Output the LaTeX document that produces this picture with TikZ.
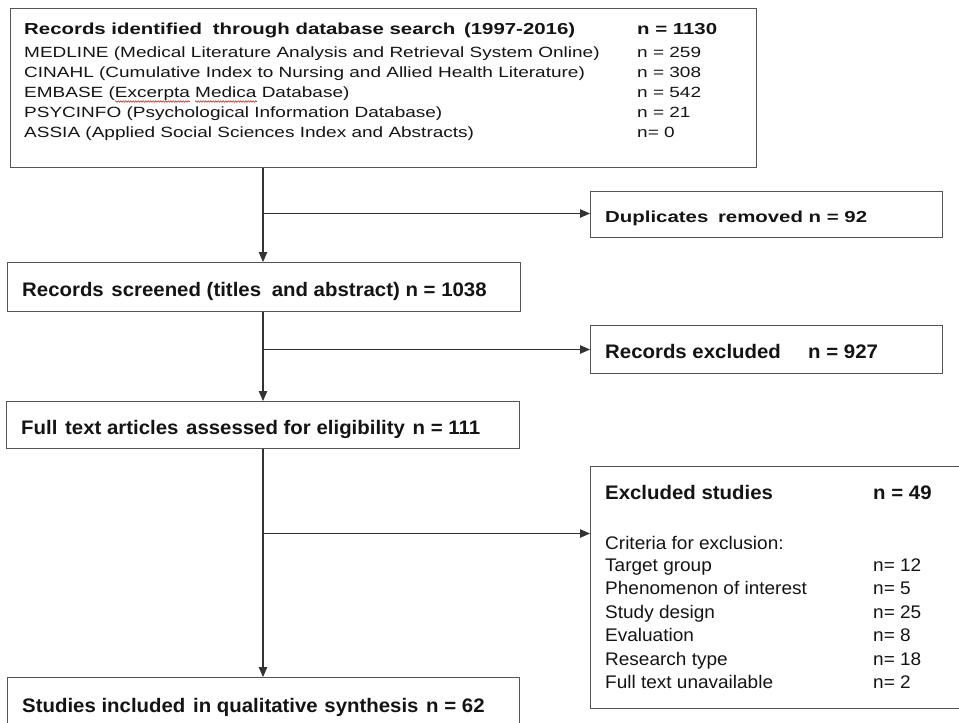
\documentclass[tikz,border=0pt]{standalone}
\usepackage{fontspec}
\setmainfont{Liberation Sans}
\usetikzlibrary{arrows.meta,decorations.pathmorphing}
\definecolor{boxline}{HTML}{555555}
\definecolor{conn}{HTML}{333333}
\definecolor{txt}{HTML}{141414}
\newcommand\rg{\fontsize{19}{19}\selectfont}
\newcommand\bd{\fontsize{20.4}{20.4}\selectfont\bfseries}
\newcommand\sqz[1]{\scalebox{1}[0.78]{#1}}
\newcommand\nrm[1]{\scalebox{1}[0.96]{#1}}
\newcommand\gap[1]{\hspace*{#1pt}}
\begin{document}
\begin{tikzpicture}[x=1pt,y=-1pt,
  box/.style={draw=boxline,line width=1.3pt,rectangle,inner sep=0pt,anchor=north west},
  lbl/.style={anchor=base west,inner sep=0pt,text=txt},
  arr/.style={draw=conn,line width=1.1pt,-{Triangle[length=10pt,width=8.5pt]}},
  wavy/.style={draw=red!85!black,line width=0.5pt,decorate,decoration={snake,amplitude=0.8pt,segment length=2.5pt}}]
\useasboundingbox[fill=white] (0,0) rectangle (959,723);
% boxes
\node[box,minimum width=746pt,minimum height=159pt] (top) at (10,8) {};
\node[box,minimum width=352pt,minimum height=46pt] (dup) at (590,191) {};
\node[box,minimum width=513pt,minimum height=49pt] (scr) at (7,262) {};
\node[box,minimum width=352pt,minimum height=48pt] (exc) at (590,325) {};
\node[box,minimum width=513pt,minimum height=47pt] (full) at (6,401) {};
\node[box,minimum width=390pt,minimum height=242pt] (exs) at (590,466) {};
\node[box,minimum width=512pt,minimum height=70pt] (inc) at (7,677) {};
% top box text
\node[lbl] (t0) at (24,34) {\sqz{\bd Records identified\gap{5} through database search\gap{3} (1997-2016)}};
\node[lbl] (n0) at (637,34) {\sqz{\bd n = 1130}};
\node[lbl] (t1) at (24,57) {\sqz{\rg MEDLINE (Medical Literature Analysis and Retrieval System Online)}};
\node[lbl] (n1) at (637,57) {\sqz{\rg n = 259}};
\node[lbl] (t2) at (24,77) {\sqz{\rg CINAHL (Cumulative Index to Nursing and Allied Health Literature)}};
\node[lbl] (n2) at (637,77) {\sqz{\rg n = 308}};
\node[lbl] (t3) at (24,97) {\sqz{\rg EMBASE (Excerpta Medica Database)}};
\node[lbl] (n3) at (637,97) {\sqz{\rg n = 542}};
\node[lbl] (t4) at (24,117) {\sqz{\rg PSYCINFO (Psychological Information Database)}};
\node[lbl] (n4) at (637,117) {\sqz{\rg n = 21}};
\node[lbl] (t5) at (24,137) {\sqz{\rg ASSIA (Applied Social Sciences Index and Abstracts)}};
\node[lbl] (n5) at (637,137) {\sqz{\rg n= 0}};
\draw[wavy] (115,101.5) -- (190,101.5);
\draw[wavy] (195,101.5) -- (257,101.5);
% other texts
\node[lbl] (dupt) at (605,222.5) {\sqz{\bd Duplicates\gap{4} removed n = 92}};
\node[lbl] (scrt) at (22,296.5) {\nrm{\bd Records\gap{2} screened (titles\gap{5} and abstract) n = 1038}};
\node[lbl] (exct) at (605,358) {\nrm{\bd Records excluded}};
\node[lbl] (excn) at (808,358) {\nrm{\bd n = 927}};
\node[lbl] (fullt) at (21,434.5) {\nrm{\bd Full\gap{2} text articles\gap{2} assessed for eligibility\gap{2} n = 111}};
\node[lbl] (exsh) at (605,499) {\nrm{\bd Excluded studies}};
\node[lbl] (exsn) at (873,499) {\nrm{\bd n = 49}};
\node[lbl] (c0) at (605,549) {\nrm{\rg Criteria for exclusion:}};
\node[lbl] (c1) at (605,571) {\nrm{\rg Target group}};
\node[lbl] (m1) at (873,571) {\nrm{\rg n= 12}};
\node[lbl] (c2) at (605,594) {\nrm{\rg Phenomenon of interest}};
\node[lbl] (m2) at (873,594) {\nrm{\rg n= 5}};
\node[lbl] (c3) at (605,618) {\nrm{\rg Study design}};
\node[lbl] (m3) at (873,618) {\nrm{\rg n= 25}};
\node[lbl] (c4) at (605,641.5) {\nrm{\rg Evaluation}};
\node[lbl] (m4) at (873,641.5) {\nrm{\rg n= 8}};
\node[lbl] (c5) at (605,665) {\nrm{\rg Research type}};
\node[lbl] (m5) at (873,665) {\nrm{\rg n= 18}};
\node[lbl] (c6) at (605,688) {\nrm{\rg Full text unavailable}};
\node[lbl] (m6) at (873,688) {\nrm{\rg n= 2}};
\node[lbl] (inct) at (22,712) {\nrm{\bd Studies included\gap{2} in qualitative\gap{1} synthesis\gap{2} n = 62}};
% connectors
\coordinate (sp) at (263,0);
\coordinate (b1) at (263,213.5);
\coordinate (b2) at (263,349.5);
\coordinate (b3) at (263,533.5);
\draw[arr] (top.south -| sp) -- (scr.north -| sp);
\draw[arr] (scr.south -| sp) -- (full.north -| sp);
\draw[arr] (full.south -| sp) -- (inc.north -| sp);
\draw[arr] (b1) -- (b1 -| dup.west);
\draw[arr] (b2) -- (b2 -| exc.west);
\draw[arr] (b3) -- (b3 -| exs.west);
\end{tikzpicture}
\end{document}
